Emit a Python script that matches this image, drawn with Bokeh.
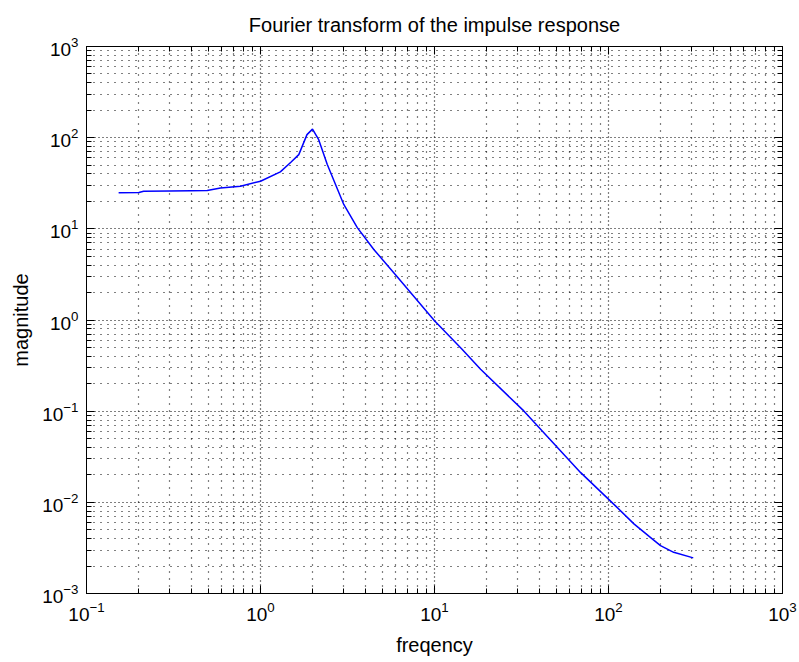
from bokeh.plotting import figure
from bokeh.models import Range1d, LogAxis, FixedTicker, LogTickFormatter, ColumnDataSource
from bokeh.embed import file_html
from bokeh.resources import INLINE

# Data
freq = [0.153, 0.200, 0.213, 0.30, 0.40, 0.494, 0.589, 0.767, 1.0, 1.30, 1.50, 1.66,
        1.85, 1.99, 2.16, 2.42, 3.01, 3.60, 4.48, 6.0, 10.0, 14.4, 18.4, 32.6,
        69.0, 112.0, 140.0, 174.0, 199.0, 237.0, 307.0]
mag = [24.8, 25.0, 25.8, 26.0, 26.2, 26.3, 28.1, 29.3, 33.3, 42.1, 54.0, 65.2,
       108.0, 124.0, 95.0, 50.7, 18.5, 10.3, 5.94, 3.1, 0.98, 0.477, 0.288, 0.1007,
       0.0213, 0.0088, 0.0058, 0.00413, 0.00335, 0.00283, 0.00246]

x_major = [0.1, 1, 10, 100, 1000]
y_major = [0.001, 0.01, 0.1, 1, 10, 100, 1000]
x_minor = [m * d for d in x_major[:-1] for m in range(2, 10)]
y_minor = [m * d for d in y_major[:-1] for m in range(2, 10)]

title_text = "Fourier transform of the impulse response"
x_label = "freqency"
y_label = "magnitude"

FONT = "Liberation Sans"

p = figure(width=799, height=662, x_axis_type="log", y_axis_type="log",
           x_range=Range1d(0.1, 1000), y_range=Range1d(0.001, 1000),
           output_backend="svg", toolbar_location=None,
           min_border_left=86, min_border_right=17, min_border_top=45, min_border_bottom=69,
           background_fill_color="white", border_fill_color="white")

p.title.text = title_text
p.title.text_font = FONT
p.title.text_font_size = "20px"
p.title.text_font_style = "normal"
p.title.text_color = "black"
p.title.align = "center"
p.title.standoff = 22

p.outline_line_color = "black"
p.outline_line_width = 1

xt = FixedTicker(ticks=x_major, minor_ticks=x_minor)
yt = FixedTicker(ticks=y_major, minor_ticks=y_minor)

def style_axis(ax, ticker, labels=True):
    ax.ticker = ticker
    ax.formatter = LogTickFormatter()
    ax.axis_line_color = "black"
    ax.major_tick_line_color = "black"
    ax.minor_tick_line_color = "black"
    ax.major_tick_in = 8
    ax.major_tick_out = 0
    ax.minor_tick_in = 5
    ax.minor_tick_out = 0
    ax.major_label_text_font = FONT
    if labels:
        ax.major_label_text_color = "black"
        ax.major_label_text_font_size = "19px"
        ax.major_label_standoff = 8
    else:
        ax.major_label_text_color = None
        ax.major_label_text_alpha = 0
        ax.major_label_text_font_size = "1px"
        ax.major_label_standoff = 0

bx = p.below[0]
ly = p.left[0]
style_axis(bx, xt)
style_axis(ly, yt)
bx.axis_label = x_label
ly.axis_label = y_label
for ax in (bx, ly):
    ax.axis_label_text_font = FONT
    ax.axis_label_text_font_size = "20px"
    ax.axis_label_text_font_style = "normal"
    ax.axis_label_text_color = "black"
bx.axis_label_standoff = 10
ly.axis_label_standoff = 7

top = LogAxis()
style_axis(top, xt, labels=False)
right = LogAxis()
style_axis(right, yt, labels=False)
p.add_layout(top, "above")
p.add_layout(right, "right")

for g in (p.xgrid[0], p.ygrid[0]):
    g.grid_line_color = "black"
    g.grid_line_width = 1.2
    g.grid_line_dash = "1 3"
    g.minor_grid_line_color = "black"
    g.minor_grid_line_width = 1.2
    g.minor_grid_line_dash = "1 6"

src = ColumnDataSource(data=dict(freq=freq, mag=mag))
p.line("freq", "mag", source=src, line_color="#0000ff", line_width=1.5)

open("out.html", "w").write(file_html(p, INLINE))
